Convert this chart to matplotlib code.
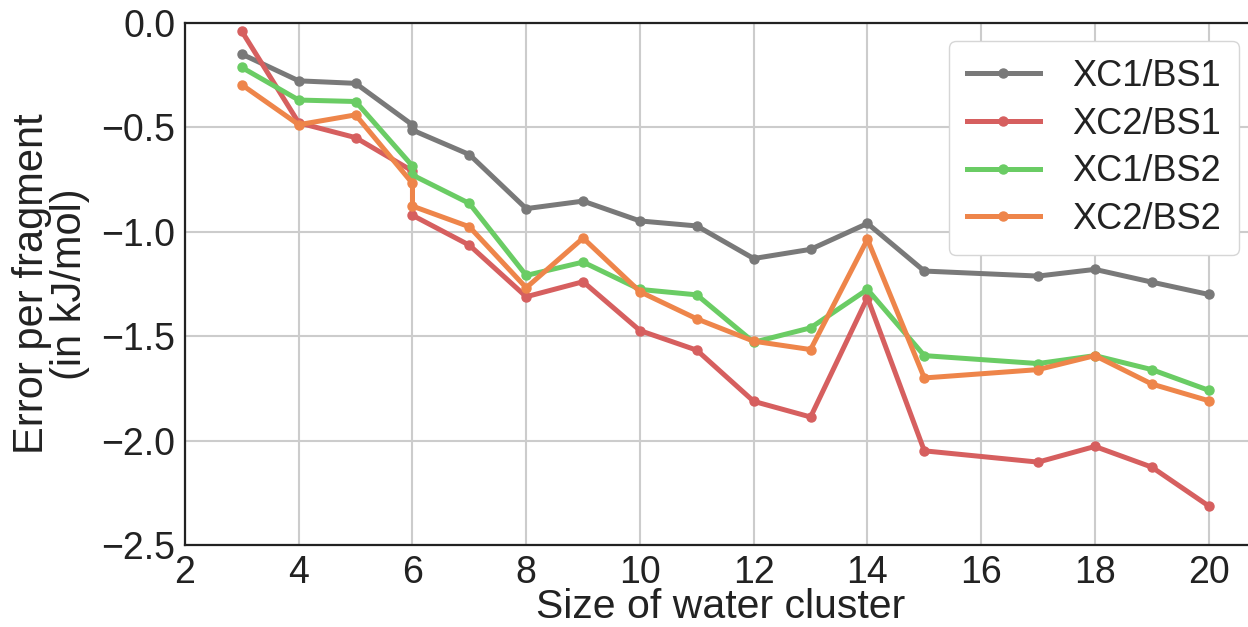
import numpy as np
import matplotlib; matplotlib.use("Agg")
import matplotlib.pyplot as plt

# cluster size (6 appears twice: two isomers)
sizes = [3, 4, 5, 6, 6, 7, 8, 9, 10, 11, 12, 13, 14, 15, 17, 18, 19, 20]
xc1_bs1 = [-0.149, -0.277, -0.289, -0.488, -0.513, -0.630, -0.889, -0.853, -0.948, -0.972,
           -1.128, -1.084, -0.960, -1.188, -1.212, -1.180, -1.241, -1.300]
xc2_bs1 = [-0.040, -0.478, -0.549, -0.709, -0.921, -1.064, -1.311, -1.239, -1.473, -1.567,
           -1.812, -1.887, -1.316, -2.049, -2.103, -2.028, -2.127, -2.313]
xc1_bs2 = [-0.213, -0.369, -0.376, -0.685, -0.728, -0.864, -1.209, -1.145, -1.276, -1.302,
           -1.529, -1.460, -1.276, -1.593, -1.631, -1.593, -1.660, -1.759]
xc2_bs2 = [-0.296, -0.487, -0.440, -0.768, -0.877, -0.976, -1.268, -1.030, -1.287, -1.417,
           -1.524, -1.564, -1.036, -1.700, -1.660, -1.593, -1.729, -1.809]

series = [("XC1/BS1", xc1_bs1, "#797979"),
          ("XC2/BS1", xc2_bs1, "#d65f5f"),
          ("XC1/BS2", xc1_bs2, "#6acc64"),
          ("XC2/BS2", xc2_bs2, "#ee854a")]

plt.rcParams["font.family"] = ["Liberation Sans", "DejaVu Sans"]
fig = plt.figure(figsize=(12.48, 6.27), dpi=100)
ax = fig.add_axes([185/1248, 1 - 545/627, (1257 - 185)/1248, (545 - 23)/627])

for lab, y, c in series:
    ax.plot(sizes, y, "-o", color=c, lw=3.6, ms=6.5, label=lab)

ax.set_xlim(2, 20.85); ax.set_ylim(-2.5, 0)
ax.set_xticks(range(2, 21, 2))
ax.set_yticks(np.arange(-2.5, 0.01, 0.5))
ax.grid(color="#cccccc", lw=1.5)
ax.set_axisbelow(True)
for s in ax.spines.values():
    s.set_color("#222222"); s.set_linewidth(1.6)
ax.tick_params(length=0, labelsize=27, pad=7, colors="#222222")
ax.set_xlabel("Size of water cluster", fontsize=29.5, color="#222222", labelpad=-2)
ax.set_ylabel("Error per fragment\n(in kJ/mol)", fontsize=30, color="#222222", labelpad=8,
              linespacing=0.95)
leg = ax.legend(loc="upper right", fontsize=26, frameon=True, fancybox=True,
                edgecolor="#d6d6d6", framealpha=1.0, borderpad=0.5, labelspacing=0.35,
                handletextpad=0.9)
for t in leg.get_texts():
    t.set_color("#222222")
fig.savefig("out.png", dpi=100)
